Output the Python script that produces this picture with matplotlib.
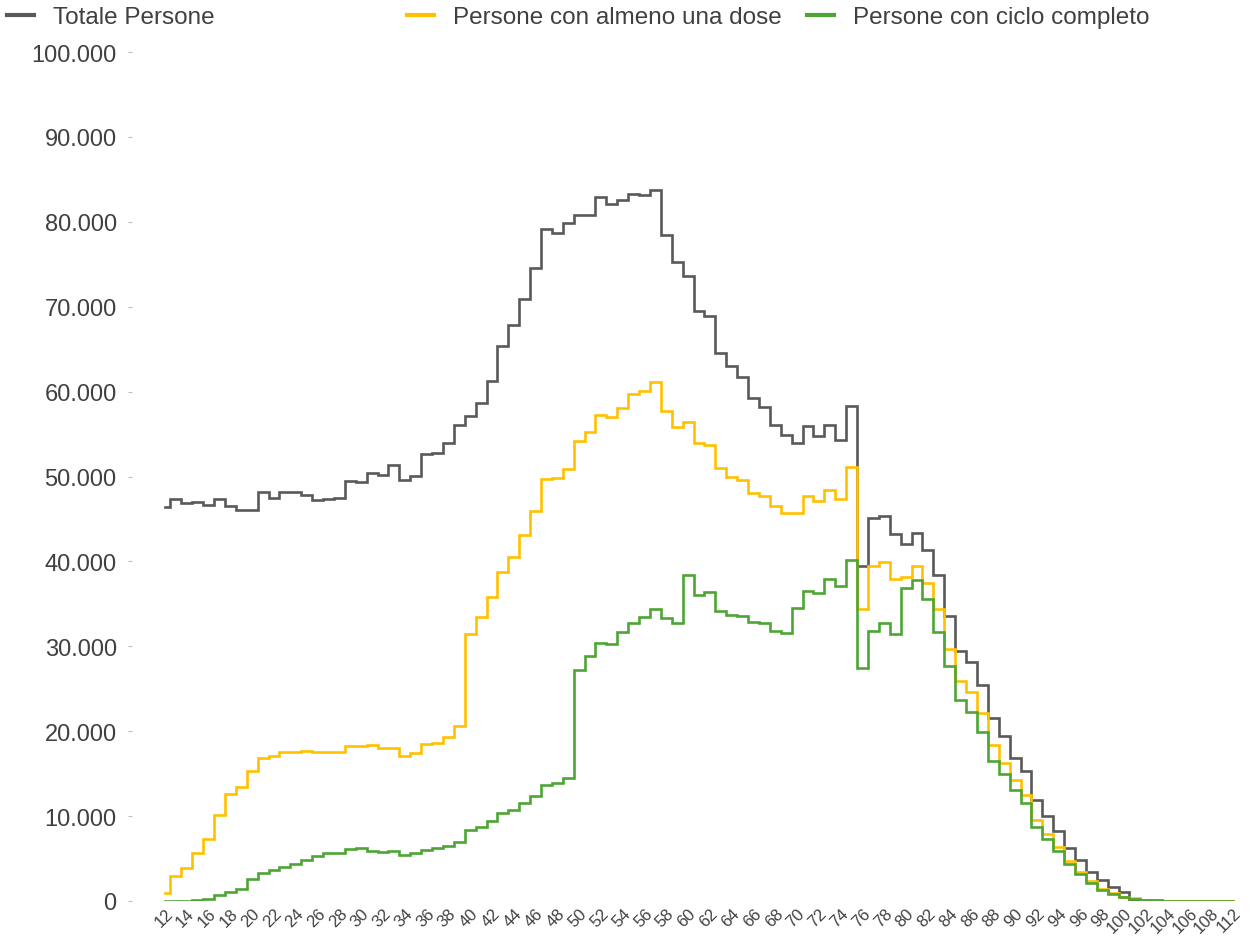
import matplotlib
matplotlib.use("Agg")
import matplotlib.pyplot as plt
from matplotlib.lines import Line2D
from matplotlib.ticker import FuncFormatter, MultipleLocator

plt.rcParams['font.family'] = ['Liberation Sans', 'DejaVu Sans']

# età (categorie sull'asse x)
eta = list(range(12, 109)) + [110, 112]

# valori in migliaia di persone
totale = [46.4, 47.35, 46.9, 47.0, 46.7, 47.3, 46.5, 46.05, 46.05, 48.15,
          47.5, 48.2, 48.2, 47.85, 47.2, 47.3, 47.5, 49.5, 49.4, 50.4,
          50.2, 51.35, 49.6, 50.1, 52.7, 52.8, 53.95, 56.05, 57.1, 58.65,
          61.2, 65.35, 67.8, 70.9, 74.55, 79.2, 78.7, 79.8, 80.8, 80.85,
          82.95, 82.1, 82.6, 83.25, 83.15, 83.8, 78.4, 75.3, 73.65, 69.5,
          68.9, 64.5, 63.05, 61.75, 59.2, 58.2, 56.05, 54.9, 53.9, 55.9,
          54.8, 56.1, 54.3, 58.3, 39.5, 45.1, 45.3, 43.2, 42.05, 43.3,
          41.3, 38.4, 33.6, 29.5, 28.2, 25.5, 21.5, 19.4, 16.9, 15.35,
          11.9, 10.05, 8.3, 6.2, 4.8, 3.45, 2.5, 1.7, 1.05, 0.12,
          0.06, 0.04, 0.02, 0.01, 0.01, 0.0, 0.0, 0.0, 0.0]

almeno_una_dose = [0.95, 2.97, 3.9, 5.66, 7.35, 10.1, 12.6, 13.4, 15.3, 16.9,
                   17.05, 17.55, 17.55, 17.7, 17.55, 17.55, 17.6, 18.3, 18.2, 18.4,
                   18.0, 18.05, 17.1, 17.45, 18.5, 18.6, 19.3, 20.65, 31.45, 33.4,
                   35.85, 38.7, 40.5, 43.1, 45.9, 49.7, 49.8, 50.9, 54.2, 55.3,
                   57.2, 57.05, 58.1, 59.7, 60.1, 61.1, 57.7, 55.85, 56.4, 53.9,
                   53.75, 50.95, 49.9, 49.6, 48.0, 47.7, 46.5, 45.7, 45.7, 47.7,
                   47.1, 48.4, 47.4, 51.1, 34.35, 39.5, 39.9, 37.9, 38.2, 39.4,
                   37.5, 34.4, 29.7, 25.9, 24.6, 22.2, 18.4, 16.3, 14.2, 12.5,
                   9.5, 7.95, 6.4, 4.7, 3.45, 2.4, 1.45, 0.9, 0.5, 0.3,
                   0.15, 0.08, 0.05, 0.03, 0.02, 0.01, 0.01, 0.005, 0.0]

ciclo_completo = [0.0, 0.0, 0.02, 0.1, 0.28, 0.75, 1.1, 1.45, 2.6, 3.25,
                  3.6, 4.0, 4.3, 4.8, 5.35, 5.65, 5.65, 6.1, 6.2, 5.9,
                  5.8, 5.85, 5.45, 5.7, 6.05, 6.2, 6.45, 6.9, 8.35, 8.75,
                  9.45, 10.35, 10.75, 11.5, 12.4, 13.7, 13.9, 14.45, 27.2, 28.8,
                  30.4, 30.3, 31.7, 32.7, 33.4, 34.45, 33.35, 32.8, 38.35, 36.0,
                  36.4, 34.1, 33.7, 33.6, 32.9, 32.7, 31.8, 31.6, 34.5, 36.5,
                  36.3, 37.9, 37.1, 40.2, 27.5, 31.8, 32.7, 31.45, 36.9, 37.8,
                  35.6, 31.7, 27.7, 23.7, 22.3, 19.9, 16.5, 15.0, 13.1, 11.5,
                  8.75, 7.35, 5.9, 4.3, 3.2, 2.1, 1.35, 0.85, 0.5, 0.28,
                  0.14, 0.07, 0.04, 0.02, 0.01, 0.01, 0.005, 0.0, 0.0]

serie = [
    ("Totale Persone", totale, "#595959"),
    ("Persone con almeno una dose", almeno_una_dose, "#FFC000"),
    ("Persone con ciclo completo", ciclo_completo, "#4EA535"),
]

testo = "#404040"
W, H = 1250, 937

fig = plt.figure(figsize=(12.5, 9.37), dpi=100)
ax = fig.add_axes([132 / W, 35 / H, 1113 / W, 849 / H])

x = list(range(len(eta)))
for nome, vals, col in serie:
    ax.step(x, [v * 1000 for v in vals], where="mid", color=col, lw=1.9,
            solid_joinstyle="miter")

ax.set_xlim(-3.03, 99.1)
ax.set_ylim(0, 100000)
ax.yaxis.set_major_locator(MultipleLocator(10000))
ax.yaxis.set_major_formatter(FuncFormatter(lambda v, p: f"{int(v):,}".replace(",", ".")))
ax.tick_params(axis="y", length=3, width=0.8, color="#bfbfbf", pad=8,
               labelsize=17, labelcolor=testo)

pos = list(range(0, len(eta), 2))
ax.set_xticks(pos)
ax.set_xticklabels([str(eta[i]) for i in pos], rotation=45, ha="right",
                   rotation_mode="anchor", fontsize=12, color=testo)
ax.tick_params(axis="x", length=0, pad=3)

for s in ax.spines.values():
    s.set_visible(False)

# legenda in alto, tre colonne a passo fisso
for i, (nome, vals, col) in enumerate(serie):
    h = Line2D([], [], color=col, lw=3)
    fig.legend(handles=[h], labels=[nome], loc="center left",
               bbox_to_anchor=((7 + 400 * i) / W, 1 - 18 / H),
               frameon=False, fontsize=17.5, labelcolor=testo,
               handlelength=1.1, handletextpad=0.8,
               borderpad=0, borderaxespad=0)

fig.savefig("out.png", dpi=100)
